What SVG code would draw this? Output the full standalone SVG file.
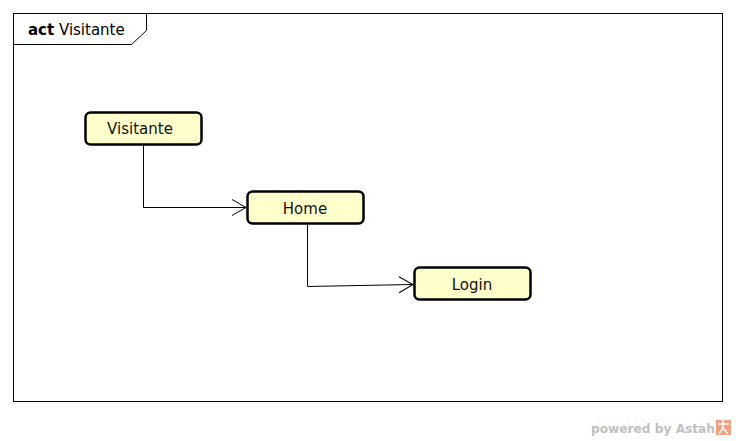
<svg xmlns="http://www.w3.org/2000/svg" width="736" height="441" viewBox="0 0 736 441">
<style>
.node rect{fill:#ffffcc;stroke:#000;stroke-width:2.5}
.node text{font-family:"DejaVu Sans",sans-serif;font-size:15px;text-anchor:middle;fill:#111}
.conn path{fill:none;stroke:#000;stroke-width:1}
</style>
<defs>
<marker id="open" markerWidth="16" markerHeight="18" refX="15" refY="9" orient="auto" markerUnits="userSpaceOnUse">
<path d="M1,1 L15,9 L1,17" fill="none" stroke="#000" stroke-width="1"/>
</marker>
</defs>
<rect width="736" height="441" fill="#fff"/>
<g id="frame">
<rect x="13.5" y="13.5" width="709" height="388" fill="none" stroke="#000" stroke-width="1"/>
<path d="M13.5,44.5 L131.5,44.5 L146.5,30.5 L146.5,13.5" fill="none" stroke="#000" stroke-width="1"/>
<text x="28" y="35" font-family="DejaVu Sans,sans-serif" font-size="15px"><tspan font-weight="bold">act</tspan> Visitante</text>
</g>
<g class="conn" id="connectors">
<path d="M143.5,144 L143.5,207.5 L246,207.5" marker-end="url(#open)"/>
<path d="M307.5,223 L307.5,286.5 L413,284.5" marker-end="url(#open)"/>
</g>
<g class="node" id="node-visitante">
<rect x="85.5" y="112.5" width="116" height="32" rx="5"/>
<text x="140" y="134">Visitante</text>
</g>
<g class="node" id="node-home">
<rect x="247.5" y="191.5" width="116" height="32" rx="5"/>
<text x="305" y="214">Home</text>
</g>
<g class="node" id="node-login">
<rect x="414.5" y="267.5" width="116" height="32" rx="5"/>
<text x="472" y="290">Login</text>
</g>
<g id="watermark">
<text x="591" y="433" font-family="DejaVu Sans,sans-serif" font-size="12.5px" font-weight="bold" fill="#c0c0c0" textLength="124" lengthAdjust="spacingAndGlyphs">powered by Astah</text>
<rect x="716" y="420" width="15" height="15" fill="#f0a080"/>
<path d="M718,424 L729,424 M723,420 L723,428 M719,434 L723,428 L728,434" stroke="#fff" stroke-width="1.5" fill="none"/>
</g>
</svg>
